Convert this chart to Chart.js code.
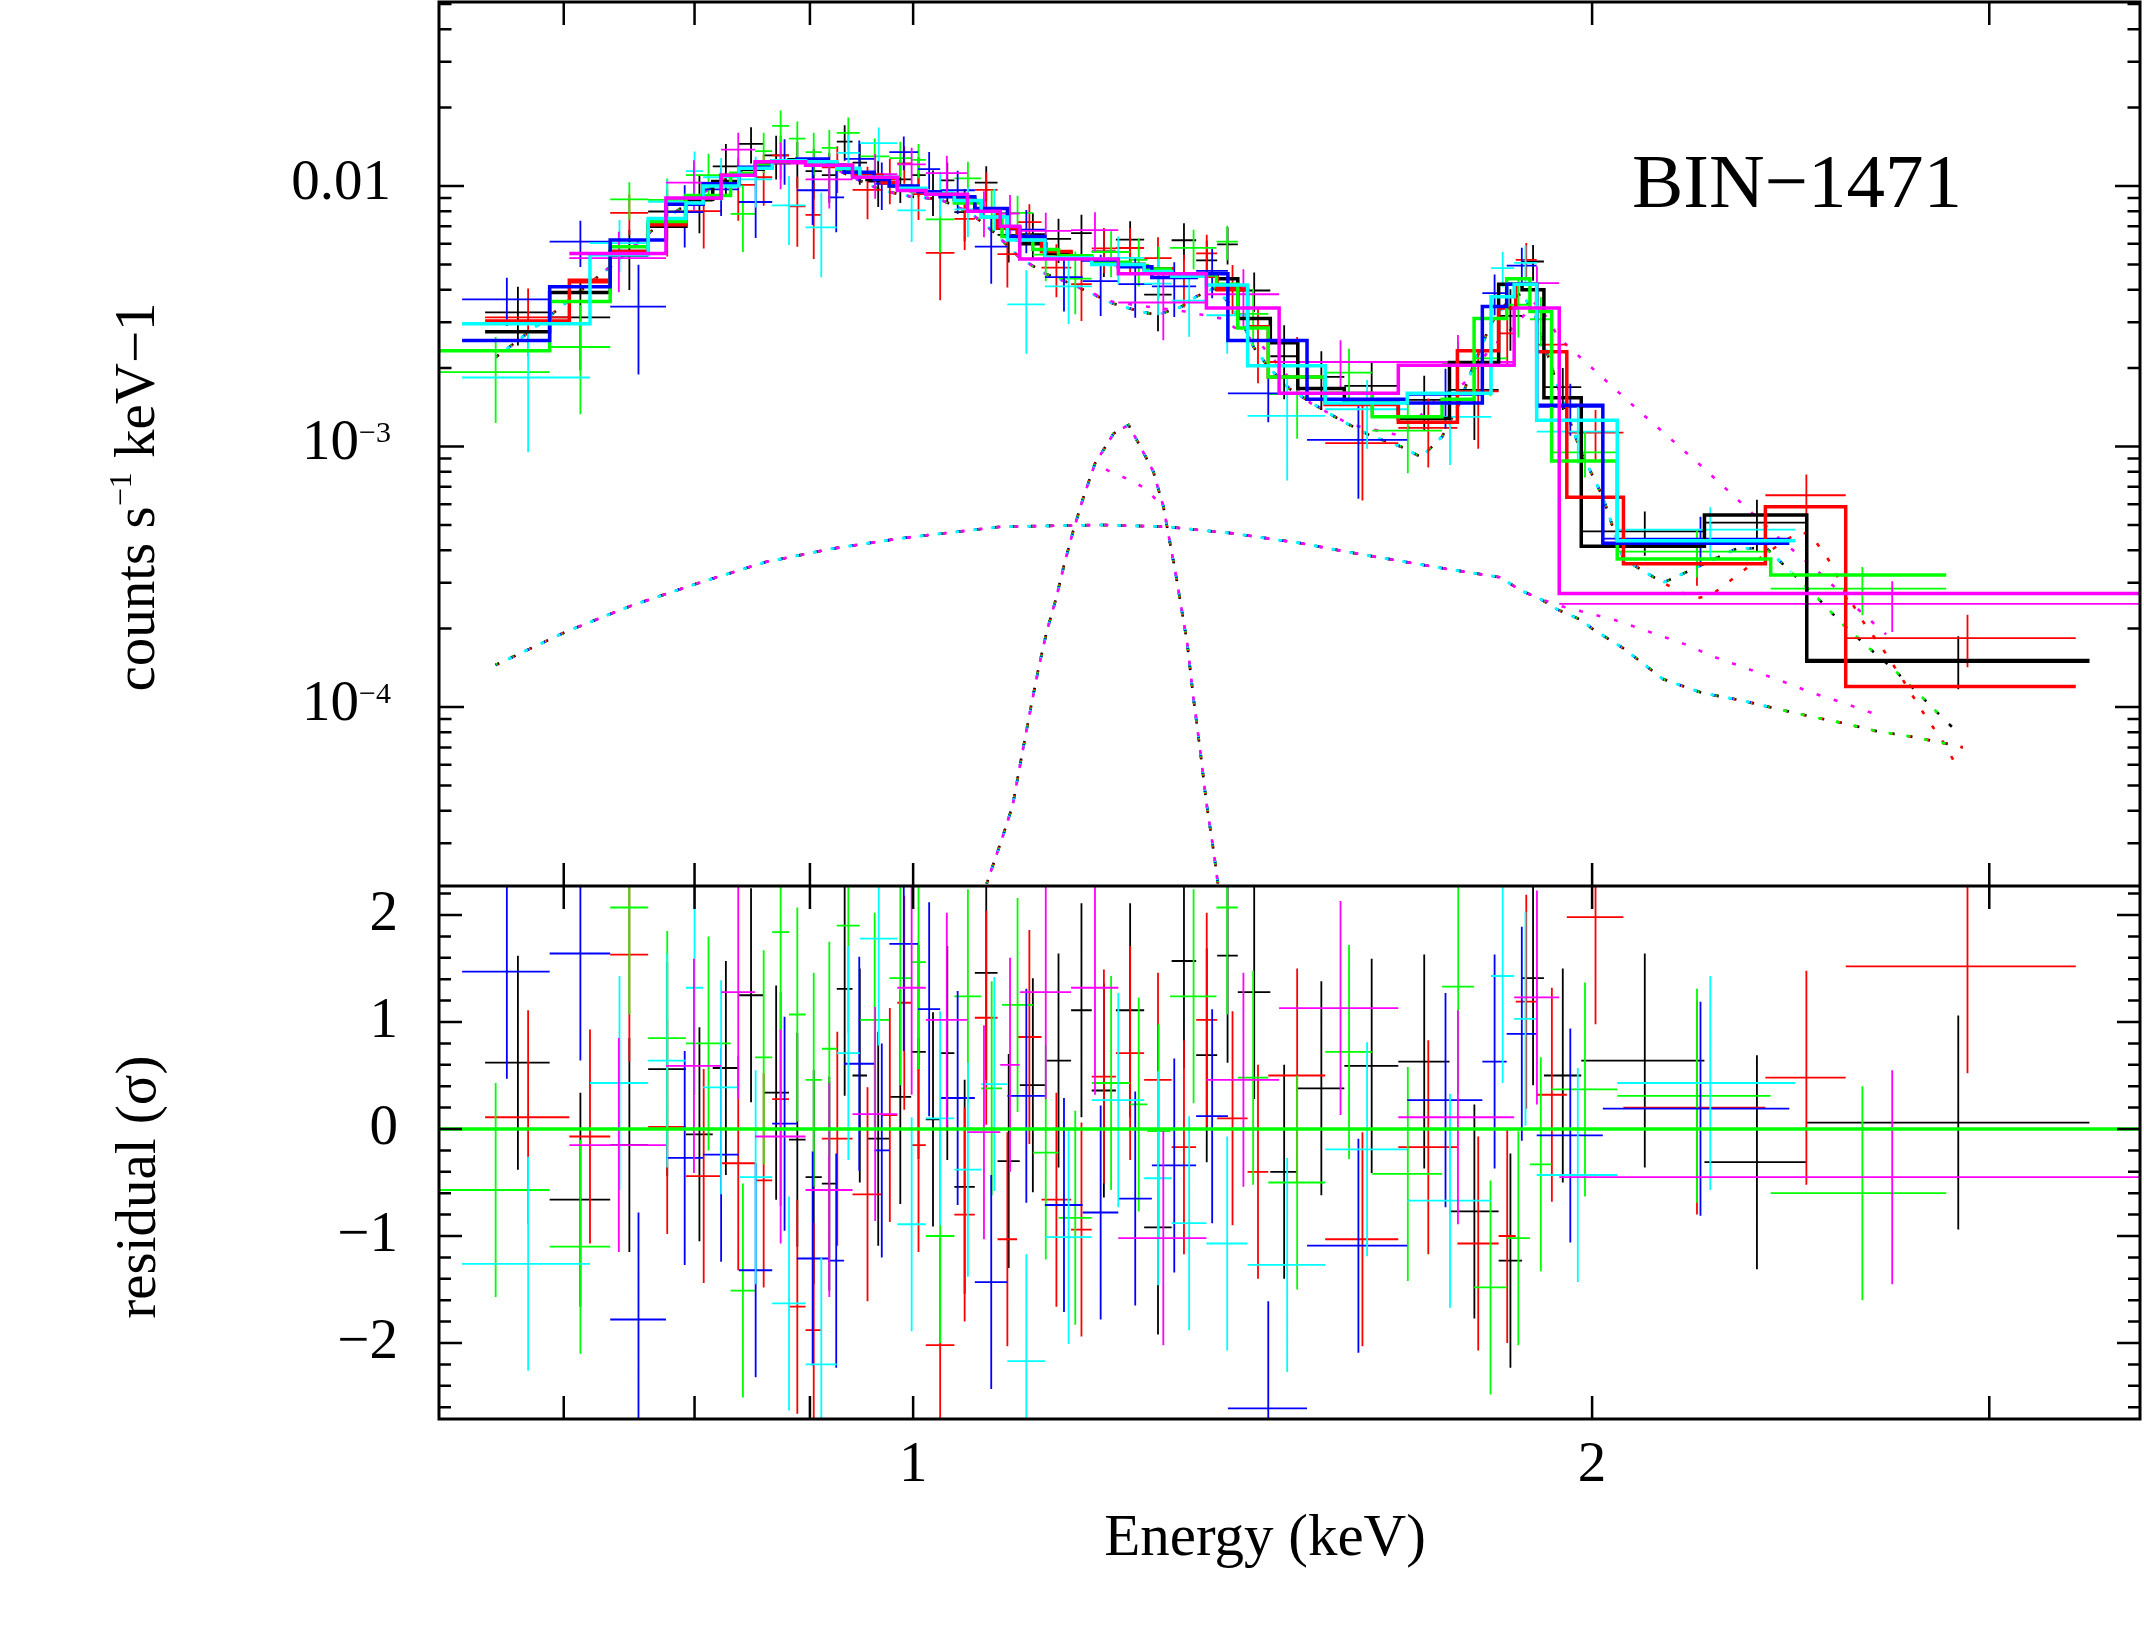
<!DOCTYPE html>
<html>
<head>
<meta charset="utf-8">
<title>BIN-1471 spectrum</title>
<script src="https://cdn.jsdelivr.net/npm/chart.js@4.4.1/dist/chart.umd.min.js"></script>
<style>
  html, body { margin: 0; padding: 0; background: #ffffff; }
  #wrap { width: 2144px; height: 1640px; }
</style>
</head>
<body>
<div id="wrap"><canvas id="spectrum" width="2144" height="1640"></canvas></div>
<script>
// axis ranges and tick labels
const energyRange = [0.6163, 3.499];
const countsRange = [2.056e-5, 0.05084];
const residRange = [-2.71, 2.271];

const xTickValues = [1, 2];
const xTickLabels = ['1', '2'];
const xMinorTicks = [0.7, 0.8, 0.9, 3];
const countsTickValues = [1e-2, 1e-3, 1e-4];
const countsTickBase = ['0.01', '10', '10'];
const countsTickExp = ['', '\u22123', '\u22124'];
const residTickValues = [-2, -1, 0, 1, 2];
const residTickLabels = ['\u22122', '\u22121', '0', '1', '2'];
const residSigma = 1;
const binLabel = 'BIN\u22121471';
const energyTitle = 'Energy (keV)';

// group 1 (black)
const blackEdges = [0.646, 0.690, 0.734, 0.763, 0.793, 0.815, 0.837, 0.858, 0.881, 0.896, 0.911, 0.925, 0.940, 0.954, 0.976, 0.998, 1.013, 1.028, 1.043, 1.065, 1.090, 1.115, 1.145, 1.175, 1.200, 1.230, 1.266, 1.302, 1.335, 1.364, 1.393, 1.440, 1.481, 1.553, 1.641, 1.729, 1.818, 1.862, 1.904, 1.978, 2.243, 2.490, 3.323];
const blackModel = [2.76e-3, 3.9e-3, 5.6e-3, 7.0e-3, 8.9e-3, 1.04e-2, 1.16e-2, 1.23e-2, 1.26e-2, 1.25e-2, 1.22e-2, 1.17e-2, 1.12e-2, 1.06e-2, 1.0e-2, 9.6e-3, 9.4e-3, 9.2e-3, 8.9e-3, 8.0e-3, 6.9e-3, 6.0e-3, 5.5e-3, 5.3e-3, 5.2e-3, 5.0e-3, 4.8e-3, 4.6e-3, 4.5e-3, 4.4e-3, 3.1e-3, 2.5e-3, 1.67e-3, 1.47e-3, 1.28e-3, 2.1e-3, 4.2e-3, 4.0e-3, 1.54e-3, 4.14e-4, 5.46e-4, 1.5e-4];
const blackData = [3.27e-3, 3.13e-3, 5.39e-3, 7.98e-3, 8.79e-3, 1.19e-2, 1.45e-2, 1.31e-2, 1.23e-2, 1.14e-2, 1.10e-2, 1.48e-2, 1.23e-2, 1.04e-2, 1.06e-2, 1.10e-2, 9.57e-3, 1.05e-2, 7.94e-3, 1.03e-2, 6.49e-3, 6.54e-3, 6.27e-3, 6.59e-3, 5.61e-3, 6.22e-3, 3.83e-3, 6.19e-3, 5.18e-3, 5.97e-3, 3.97e-3, 2.22e-3, 1.85e-3, 1.71e-3, 1.51e-3, 1.65e-3, 3.17e-3, 5.13e-3, 1.69e-3, 4.72e-4, 5.1e-4, 1.52e-4];
const blackErr = [0.83e-3, 1.17e-3, 1.4e-3, 1.75e-3, 2.2e-3, 2.6e-3, 2.3e-3, 2.5e-3, 2.5e-3, 2.5e-3, 2.4e-3, 2.3e-3, 2.2e-3, 2.1e-3, 2.0e-3, 1.9e-3, 1.9e-3, 1.8e-3, 1.8e-3, 1.6e-3, 1.4e-3, 1.32e-3, 1.21e-3, 1.17e-3, 1.14e-3, 1.1e-3, 1.06e-3, 1.01e-3, 0.99e-3, 0.97e-3, 0.68e-3, 0.7e-3, 0.47e-3, 0.41e-3, 0.36e-3, 0.59e-3, 0.84e-3, 0.8e-3, 0.31e-3, 0.91e-4, 1.15e-4, 0.35e-4];
const blackResid = [0.62, -0.66, -0.15, 0.56, -0.05, 0.57, 1.25, 0.34, -0.10, -0.45, -0.51, 1.31, 0.50, -0.09, 0.30, 0.72, 0.09, 0.71, -0.54, 1.46, -0.30, 0.41, 0.64, 1.11, 0.36, 1.11, -0.92, 1.57, 0.69, 1.62, 1.28, -0.40, 0.38, 0.59, 0.63, -0.77, -1.23, 1.41, 0.50, 0.64, -0.31, 0.06];

// group 2 (red)
const redEdges = [0.646, 0.704, 0.734, 0.763, 0.793, 0.822, 0.851, 0.866, 0.881, 0.896, 0.911, 0.940, 0.969, 0.984, 0.998, 1.013, 1.043, 1.065, 1.090, 1.112, 1.140, 1.175, 1.200, 1.230, 1.266, 1.302, 1.335, 1.364, 1.407, 1.437, 1.523, 1.641, 1.743, 1.818, 1.850, 1.890, 1.949, 2.065, 2.387, 2.591, 3.277];
const redModel = [3.03e-3, 4.35e-3, 5.6e-3, 7.1e-3, 9.0e-3, 1.1e-2, 1.2e-2, 1.24e-2, 1.25e-2, 1.24e-2, 1.2e-2, 1.1e-2, 1.03e-2, 9.9e-3, 9.6e-3, 9.3e-3, 8.9e-3, 8.0e-3, 6.9e-3, 6.2e-3, 5.6e-3, 5.3e-3, 5.2e-3, 5.0e-3, 4.8e-3, 4.6e-3, 4.5e-3, 4.0e-3, 2.88e-3, 1.85e-3, 1.45e-3, 1.24e-3, 2.33e-3, 3.4e-3, 4.2e-3, 2.31e-3, 6.38e-4, 3.55e-4, 5.87e-4, 1.2e-4];
const redData = [3.13e-3, 4.26e-3, 7.88e-3, 7.14e-3, 8.01e-3, 1.01e-2, 1.08e-2, 1.31e-2, 8.35e-3, 7.74e-3, 1.18e-2, 9.66e-3, 1.06e-2, 1.22e-2, 9.31e-3, 5.54e-3, 7.48e-3, 9.66e-3, 5.48e-3, 7.27e-3, 4.86e-3, 4.20e-3, 5.76e-3, 5.78e-3, 5.29e-3, 4.43e-3, 5.51e-3, 4.09e-3, 2.56e-3, 2.11e-3, 1.03e-3, 1.18e-3, 1.63e-3, 2.72e-3, 5.2e-3, 2.46e-3, 1.13e-3, 3.7e-4, 6.5e-4, 1.84e-4];
const redErr = [0.91e-3, 1.31e-3, 1.4e-3, 1.78e-3, 2.25e-3, 2.75e-3, 2.4e-3, 2.5e-3, 2.5e-3, 2.5e-3, 2.4e-3, 2.2e-3, 2.1e-3, 2.0e-3, 1.9e-3, 1.9e-3, 1.8e-3, 1.6e-3, 1.4e-3, 1.24e-3, 1.12e-3, 1.17e-3, 1.14e-3, 1.1e-3, 1.06e-3, 1.01e-3, 0.99e-3, 0.88e-3, 0.81e-3, 0.52e-3, 0.41e-3, 0.35e-3, 0.65e-3, 0.68e-3, 0.84e-3, 0.46e-3, 2.5e-4, 0.78e-4, 1.3e-4, 0.42e-4];
const redResid = [0.11, -0.07, 1.63, 0.02, -0.44, -0.32, -0.48, 0.28, -1.66, -1.88, -0.09, -0.61, 0.13, 1.18, -0.15, -2.02, -0.80, 1.04, -1.03, 0.86, -0.66, -0.94, 0.49, 0.71, 0.46, -0.17, 1.02, 0.10, -0.40, 0.50, -1.03, -0.17, -1.07, -1.00, 1.19, 0.32, 1.98, 0.20, 0.48, 1.52];

// group 3 (green)
const greenEdges = [0.616, 0.690, 0.734, 0.763, 0.793, 0.830, 0.851, 0.866, 0.881, 0.896, 0.911, 0.925, 0.947, 0.976, 0.998, 1.013, 1.043, 1.072, 1.095, 1.130, 1.160, 1.200, 1.248, 1.270, 1.300, 1.363, 1.393, 1.437, 1.523, 1.598, 1.716, 1.773, 1.833, 1.877, 1.919, 2.052, 2.400, 2.871];
const greenModel = [2.33e-3, 3.6e-3, 5.85e-3, 7.3e-3, 9.2e-3, 1.12e-2, 1.2e-2, 1.24e-2, 1.25e-2, 1.24e-2, 1.22e-2, 1.16e-2, 1.08e-2, 1.0e-2, 9.6e-3, 9.3e-3, 8.6e-3, 7.6e-3, 6.4e-3, 5.7e-3, 5.4e-3, 5.1e-3, 4.95e-3, 4.8e-3, 4.55e-3, 4.2e-3, 2.85e-3, 1.85e-3, 1.6e-3, 1.3e-3, 1.52e-3, 3.1e-3, 4.4e-3, 3.3e-3, 8.8e-4, 3.7e-4, 3.21e-4];
const greenData = [1.93e-3, 2.41e-3, 8.88e-3, 8.85e-3, 1.10e-2, 7.82e-3, 1.36e-2, 1.70e-2, 1.52e-2, 1.35e-2, 1.40e-2, 1.60e-2, 1.30e-2, 1.28e-2, 1.26e-2, 7.44e-3, 1.07e-2, 8.18e-3, 7.88e-3, 5.45e-3, 4.41e-3, 5.58e-3, 5.2e-3, 4.78e-3, 5.79e-3, 6.11e-3, 3.23e-3, 1.59e-3, 1.92e-3, 1.15e-3, 2.09e-3, 2.18e-3, 3.5e-3, 3.08e-3, 9.5e-4, 3.95e-4, 2.85e-4];
const greenErr = [0.70e-3, 1.08e-3, 1.46e-3, 1.83e-3, 2.3e-3, 2.24e-3, 2.4e-3, 2.5e-3, 2.5e-3, 2.5e-3, 2.4e-3, 2.3e-3, 2.2e-3, 2.0e-3, 1.9e-3, 1.9e-3, 1.7e-3, 1.5e-3, 1.3e-3, 1.14e-3, 1.19e-3, 1.12e-3, 1.09e-3, 1.06e-3, 1.0e-3, 0.92e-3, 0.8e-3, 0.52e-3, 0.45e-3, 0.36e-3, 0.43e-3, 0.62e-3, 0.88e-3, 0.66e-3, 1.9e-4, 0.81e-4, 0.6e-4];
const greenResid = [-0.57, -1.10, 2.07, 0.85, 0.80, -1.51, 0.67, 1.84, 1.07, 0.46, 0.75, 1.90, 1.02, 1.41, 1.56, -1.00, 1.24, 0.38, 1.16, -0.22, -0.83, 0.43, 0.23, -0.02, 1.24, 2.07, 0.48, -0.50, 0.72, -0.42, 1.33, -1.48, -1.02, -0.33, 0.37, 0.31, -0.60];

// group 4 (blue)
const blueEdges = [0.631, 0.690, 0.734, 0.777, 0.807, 0.837, 0.866, 0.888, 0.917, 0.932, 0.961, 0.976, 1.005, 1.028, 1.065, 1.101, 1.144, 1.189, 1.233, 1.276, 1.335, 1.379, 1.495, 1.656, 1.788, 1.833, 1.890, 2.022, 2.446];
const blueModel = [2.55e-3, 4.1e-3, 6.2e-3, 8.5e-3, 1.02e-2, 1.18e-2, 1.25e-2, 1.27e-2, 1.2e-2, 1.13e-2, 1.06e-2, 1.0e-2, 9.5e-3, 9.1e-3, 8.2e-3, 6.4e-3, 5.3e-3, 5.2e-3, 4.9e-3, 4.45e-3, 4.6e-3, 2.55e-3, 1.52e-3, 1.47e-3, 3.45e-3, 4.2e-3, 1.44e-3, 4.25e-4];
const blueData = [3.67e-3, 6.12e-3, 3.44e-3, 7.93e-3, 9.71e-3, 8.68e-3, 1.26e-2, 9.63e-3, 9.05e-3, 1.27e-2, 1.02e-2, 1.35e-2, 1.16e-2, 9.63e-3, 5.85e-3, 6.8e-3, 4.47e-3, 4.31e-3, 4.2e-3, 4.12e-3, 4.72e-3, 1.6e-3, 1.06e-3, 1.58e-3, 3.88e-3, 4.95e-3, 1.42e-3, 4.43e-4];
const blueErr = [0.77e-3, 1.23e-3, 1.55e-3, 2.13e-3, 2.04e-3, 2.36e-3, 2.5e-3, 2.54e-3, 2.4e-3, 2.26e-3, 2.12e-3, 2.0e-3, 1.9e-3, 1.82e-3, 1.64e-3, 1.28e-3, 1.17e-3, 1.14e-3, 1.08e-3, 0.98e-3, 1.01e-3, 0.36e-3, 0.43e-3, 0.41e-3, 0.69e-3, 0.84e-3, 0.32e-3, 0.94e-4];
const blueResid = [1.47, 1.64, -1.78, -0.27, -0.24, -1.32, 0.05, -1.21, -1.23, 0.61, -0.20, 1.73, 1.12, 0.29, -1.43, 0.31, -0.71, -0.78, -0.65, -0.34, 0.12, -2.61, -1.09, 0.27, 0.63, 0.89, -0.06, 0.19];

// group 5 (cyan)
const cyanEdges = [0.631, 0.719, 0.763, 0.793, 0.807, 0.837, 0.866, 0.896, 0.925, 0.947, 0.984, 1.013, 1.043, 1.072, 1.101, 1.144, 1.200, 1.266, 1.302, 1.349, 1.407, 1.523, 1.656, 1.804, 1.847, 1.890, 2.052, 2.461];
const cyanModel = [2.96e-3, 5.45e-3, 7.5e-3, 8.6e-3, 1.0e-2, 1.17e-2, 1.25e-2, 1.24e-2, 1.17e-2, 1.08e-2, 9.8e-3, 9.3e-3, 8.8e-3, 7.6e-3, 6.2e-3, 5.3e-3, 5.0e-3, 4.7e-3, 4.5e-3, 4.17e-3, 2.04e-3, 1.47e-3, 1.6e-3, 3.76e-3, 4.2e-3, 1.26e-3, 4.35e-4];
const cyanData = [1.84e-3, 6.04e-3, 8.7e-3, 1.14e-2, 1.08e-2, 1.06e-2, 8.43e-3, 6.94e-3, 1.34e-2, 1.46e-2, 8.06e-3, 9.49e-3, 8.13e-3, 8.24e-3, 3.51e-3, 4.12e-3, 5.3e-3, 4.22e-3, 3.63e-3, 3.19e-3, 1.31e-3, 1.39e-3, 1.3e-3, 4.84e-3, 5.07e-3, 1.14e-3, 4.8e-4];
const cyanErr = [0.89e-3, 1.36e-3, 1.88e-3, 2.15e-3, 2.0e-3, 2.34e-3, 2.5e-3, 2.48e-3, 2.34e-3, 2.16e-3, 1.96e-3, 1.86e-3, 1.76e-3, 1.52e-3, 1.24e-3, 1.17e-3, 1.1e-3, 1.03e-3, 0.99e-3, 0.92e-3, 0.57e-3, 0.41e-3, 0.45e-3, 0.75e-3, 0.84e-3, 0.28e-3, 1.05e-4];
const cyanResid = [-1.26, 0.43, 0.64, 1.32, 0.39, -0.45, -1.63, -2.20, 0.71, 1.78, -0.89, 0.10, -0.38, 0.42, -2.17, -1.01, 0.27, -0.46, -0.88, -1.07, -1.27, -0.19, -0.67, 1.43, 1.03, -0.43, 0.43];

// group 6 (magenta)
const magentaEdges = [0.704, 0.777, 0.822, 0.851, 0.896, 0.940, 0.984, 1.013, 1.057, 1.093, 1.115, 1.175, 1.233, 1.349, 1.453, 1.641, 1.847, 1.934, 3.5];
const magentaModel = [5.5e-3, 9.0e-3, 1.1e-2, 1.24e-2, 1.2e-2, 1.08e-2, 9.6e-3, 9.3e-3, 8.0e-3, 7.0e-3, 5.25e-3, 5.25e-3, 4.6e-3, 3.4e-3, 1.6e-3, 2.05e-3, 3.4e-3, 2.73e-4];
const magentaData = [5.29e-3, 1.03e-2, 1.38e-2, 1.22e-2, 1.06e-2, 1.11e-2, 1.21e-2, 1.12e-2, 7.95e-3, 7.84e-3, 6.73e-3, 6.77e-3, 3.57e-3, 3.84e-3, 2.11e-3, 2.11e-3, 4.24e-3, 2.49e-4];
const magentaErr = [1.38e-3, 2.25e-3, 2.2e-3, 2.48e-3, 2.4e-3, 2.16e-3, 1.92e-3, 1.86e-3, 1.6e-3, 1.4e-3, 1.16e-3, 1.16e-3, 1.01e-3, 0.95e-3, 0.45e-3, 0.57e-3, 0.68e-3, 0.55e-4];
const magentaResid = [-0.15, 0.59, 1.28, -0.07, -0.57, 0.14, 1.32, 1.02, -0.03, 0.60, 1.28, 1.32, -1.02, 0.46, 1.13, 0.11, 1.23, -0.45];

// model components (dotted)
const mainE = [0.653, 0.661, 0.690, 0.734, 0.777, 0.822, 0.850, 0.872, 0.895, 0.917, 0.940, 0.969, 0.998, 1.027, 1.060, 1.087, 1.115, 1.145, 1.176, 1.225, 1.260, 1.283, 1.315, 1.335, 1.360, 1.379, 1.400, 1.416, 1.437, 1.468, 1.502, 1.545, 1.595, 1.645, 1.680, 1.716, 1.747, 1.770, 1.804, 1.837, 1.862, 1.888, 1.913, 1.940, 1.976, 2.022, 2.065, 2.15, 2.22, 2.28, 2.32, 2.39, 2.45, 2.52, 2.58, 2.65, 2.72, 2.79, 2.86, 2.90];
const mainV = [2.2e-3, 2.38e-3, 3.17e-3, 4.9e-3, 7.5e-3, 1.05e-2, 1.18e-2, 1.26e-2, 1.24e-2, 1.2e-2, 1.08e-2, 9.6e-3, 9.1e-3, 8.9e-3, 7.9e-3, 6.6e-3, 5.3e-3, 4.6e-3, 4.2e-3, 3.55e-3, 3.3e-3, 3.2e-3, 3.44e-3, 3.76e-3, 4.05e-3, 3.6e-3, 2.97e-3, 2.4e-3, 2.02e-3, 1.67e-3, 1.47e-3, 1.27e-3, 1.1e-3, 1.0e-3, 9.1e-4, 1.09e-3, 1.47e-3, 2.0e-3, 2.97e-3, 3.65e-3, 3.88e-3, 3.15e-3, 2.2e-3, 1.51e-3, 9.7e-4, 6.4e-4, 3.7e-4, 3.0e-4, 3.4e-4, 3.8e-4, 4.07e-4, 4.07e-4, 3.3e-4, 2.6e-4, 2.1e-4, 1.7e-4, 1.4e-4, 1.13e-4, 9.1e-5, 8.1e-5];
const redTailE = [2.22, 2.26, 2.33, 2.39, 2.47, 2.50, 2.55, 2.59, 2.64, 2.70, 2.75, 2.80, 2.86, 2.91];
const redTailV = [2.6e-4, 2.7e-4, 3.3e-4, 3.9e-4, 4.7e-4, 4.6e-4, 3.6e-4, 2.75e-4, 2.1e-4, 1.6e-4, 1.25e-4, 9.7e-5, 7.4e-5, 5.7e-5];
const magMainE = [0.704, 0.734, 0.777, 0.822, 0.850, 0.872, 0.895, 0.917, 0.940, 0.969, 0.998, 1.027, 1.060, 1.087, 1.115, 1.145, 1.176, 1.225, 1.283, 1.32, 1.37, 1.43, 1.50, 1.56, 1.645, 1.71, 1.755, 1.80, 1.84, 1.89, 1.934, 2.0, 2.1, 2.24, 2.33, 2.42, 2.52, 2.62, 2.70];
const magMainV = [3.6e-3, 4.9e-3, 7.5e-3, 1.05e-2, 1.18e-2, 1.26e-2, 1.24e-2, 1.2e-2, 1.08e-2, 9.6e-3, 9.1e-3, 8.9e-3, 7.9e-3, 6.6e-3, 5.3e-3, 4.6e-3, 4.2e-3, 3.6e-3, 3.4e-3, 3.3e-3, 3.1e-3, 2.4e-3, 1.47e-3, 1.22e-3, 1.1e-3, 1.55e-3, 1.75e-3, 2.34e-3, 2.8e-3, 3.6e-3, 2.6e-3, 2.0e-3, 1.36e-3, 8.3e-4, 6.05e-4, 4.45e-4, 3.3e-4, 2.4e-4, 1.9e-4];
const contE = [0.653, 0.702, 0.750, 0.804, 0.860, 0.920, 0.987, 1.093, 1.210, 1.296, 1.386, 1.484, 1.568, 1.720, 1.820, 1.860, 1.897, 1.930, 1.980, 2.000, 2.065, 2.150, 2.240, 2.330, 2.420, 2.500, 2.580, 2.670, 2.770, 2.880, 2.920];
const contV = [1.45e-4, 1.95e-4, 2.45e-4, 3.0e-4, 3.6e-4, 4.05e-4, 4.44e-4, 4.92e-4, 5.0e-4, 4.92e-4, 4.64e-4, 4.26e-4, 3.9e-4, 3.4e-4, 3.15e-4, 2.8e-4, 2.6e-4, 2.37e-4, 2.15e-4, 2.0e-4, 1.68e-4, 1.28e-4, 1.13e-4, 1.06e-4, 9.8e-5, 9.2e-5, 8.7e-5, 8.1e-5, 7.7e-5, 7.2e-5, 7.0e-5];
const magContTailE = [1.934, 2.05, 2.20, 2.26, 2.34, 2.42, 2.50, 2.59, 2.68];
const magContTailV = [2.45e-4, 2.15e-4, 1.74e-4, 1.57e-4, 1.41e-4, 1.27e-4, 1.14e-4, 1.03e-4, 9.3e-5];
const lineE = [1.078, 1.096, 1.107, 1.118, 1.129, 1.137, 1.146, 1.157, 1.167, 1.178, 1.190, 1.204, 1.227, 1.246, 1.261, 1.278, 1.291, 1.299, 1.307, 1.315, 1.323, 1.331, 1.340, 1.349, 1.359, 1.365];
const lineV = [2.1e-5, 3.2e-5, 4.2e-5, 6.7e-5, 1.05e-4, 1.43e-4, 1.94e-4, 2.6e-4, 3.55e-4, 4.8e-4, 6.4e-4, 8.6e-4, 1.12e-3, 1.21e-3, 1.0e-3, 8.0e-4, 5.9e-4, 4.4e-4, 3.3e-4, 2.4e-4, 1.75e-4, 1.1e-4, 7.0e-5, 4.3e-5, 2.8e-5, 2.1e-5];
const magLineE = [1.204, 1.223, 1.245, 1.265, 1.291];
const magLineV = [8.6e-4, 8.0e-4, 7.5e-4, 6.97e-4, 5.9e-4];

const SERIF = "'Liberation Serif', 'Times New Roman', 'DejaVu Serif', serif";

function curve(E, V) {
    return E.map((e, i) => ({ x: e, y: V[i] }));
}

const mainCurve = curve(mainE, mainV);
const contCurve = curve(contE, contV);
const lineCurve = curve(lineE, lineV);

const groups = [
    { color: '#000000', edges: blackEdges, model: blackModel, data: blackData, err: blackErr, resid: blackResid,
      comps: [mainCurve, contCurve, lineCurve] },
    { color: '#ff0000', edges: redEdges, model: redModel, data: redData, err: redErr, resid: redResid,
      comps: [mainCurve.filter(p => p.x < 2.2).concat(curve(redTailE, redTailV)), contCurve, lineCurve] },
    { color: '#00ff00', edges: greenEdges, model: greenModel, data: greenData, err: greenErr, resid: greenResid,
      comps: [mainCurve, contCurve, lineCurve] },
    { color: '#0000ff', edges: blueEdges, model: blueModel, data: blueData, err: blueErr, resid: blueResid,
      comps: [mainCurve, contCurve, lineCurve] },
    { color: '#00ffff', edges: cyanEdges, model: cyanModel, data: cyanData, err: cyanErr, resid: cyanResid,
      comps: [mainCurve, contCurve, lineCurve] },
    { color: '#ff00ff', edges: magentaEdges, model: magentaModel, data: magentaData, err: magentaErr, resid: magentaResid,
      comps: [curve(magMainE, magMainV), contCurve.filter(p => p.x < 1.93).concat(curve(magContTailE, magContTailV)),
              lineCurve, curve(magLineE, magLineV)] }
];

function stepPoints(edges, vals) {
    const pts = vals.map((v, i) => ({ x: edges[i], y: v }));
    pts.push({ x: edges[edges.length - 1], y: vals[vals.length - 1] });
    return pts;
}

function crossPoints(edges, vals, errs, floor) {
    const pts = [];
    vals.forEach((v, i) => {
        const lo = edges[i], hi = edges[i + 1], mid = (lo + hi) / 2;
        pts.push({ x: lo, y: v }, { x: hi, y: v }, { x: hi, y: null });
        pts.push({ x: mid, y: Math.max(v - errs[i], floor) }, { x: mid, y: v + errs[i] }, { x: mid, y: null });
    });
    return pts;
}

const datasets = [];
groups.forEach((g, gi) => {
    const lo = g.edges[0], hi = g.edges[g.edges.length - 1];
    datasets.push({
        data: stepPoints(g.edges, g.model), yAxisID: 'yCounts', stepped: 'before',
        borderColor: g.color, borderWidth: 3.5, pointRadius: 0, order: 10 + (5 - gi)
    });
    datasets.push({
        data: crossPoints(g.edges, g.data, g.err, 1e-7), yAxisID: 'yCounts',
        borderColor: g.color, borderWidth: 1.8, pointRadius: 0, order: 30 + (5 - gi)
    });
    datasets.push({
        data: crossPoints(g.edges, g.resid, g.resid.map(() => residSigma), -10), yAxisID: 'yResid',
        borderColor: g.color, borderWidth: 1.8, pointRadius: 0, order: 30 + (5 - gi)
    });
    g.comps.forEach(c => {
        datasets.push({
            data: c.filter(p => p.x >= lo - 0.01 && p.x <= hi + 0.01), yAxisID: 'yCounts',
            borderColor: g.color, borderWidth: 2.6, pointRadius: 0,
            borderDash: [4, 14], borderDashOffset: gi * 1.1, order: 50 + (5 - gi)
        });
    });
});
// zero line of the residual panel
datasets.push({
    data: [{ x: energyRange[0], y: 0 }, { x: energyRange[1], y: 0 }], yAxisID: 'yResid',
    borderColor: '#00ff00', borderWidth: 3.5, pointRadius: 0, order: 0
});

function drawRotated(ctx, parts, bx, cy) {
    const widths = parts.map(p => { ctx.font = `${p.size}px ${SERIF}`; return ctx.measureText(p.text).width; });
    const total = widths.reduce((a, b) => a + b, 0);
    ctx.save();
    ctx.translate(bx, cy);
    ctx.rotate(-Math.PI / 2);
    ctx.textAlign = 'left';
    ctx.textBaseline = 'alphabetic';
    let x = -total / 2;
    parts.forEach((p, i) => {
        ctx.font = `${p.size}px ${SERIF}`;
        ctx.fillText(p.text, x, -p.raise);
        x += widths[i];
    });
    ctx.restore();
}

const countsTitle = [
    { text: 'counts s', size: 57, raise: 0 },
    { text: '\u22121', size: 32, raise: 23 },
    { text: ' keV\u22121', size: 57, raise: 0 }
];
const residTitle = [{ text: 'residual (\u03c3)', size: 57, raise: 0 }];

const framePlugin = {
    id: 'frameTicks',
    afterDatasetsDraw(chart) {
        const { ctx, chartArea: a, scales } = chart;
        const xs = scales.x, yc = scales.yCounts, yr = scales.yResid;
        const split = yc.bottom;
        const seg = (x1, y1, x2, y2) => { ctx.moveTo(x1, y1); ctx.lineTo(x2, y2); };
        ctx.save();
        ctx.strokeStyle = '#000';
        ctx.lineWidth = 2.5;
        ctx.beginPath();
        xTickValues.concat(xMinorTicks).forEach(v => {
            const px = xs.getPixelForValue(v);
            seg(px, a.top, px, a.top + 23);
            seg(px, split, px, split - 23);
            seg(px, split, px, split + 23);
            seg(px, a.bottom, px, a.bottom - 23);
        });
        for (let d = -5; d <= -1; d++) {
            for (let k = 1; k <= 9; k++) {
                const v = k * Math.pow(10, d);
                if (v < countsRange[0] || v > countsRange[1]) continue;
                const len = k === 1 ? 25 : 12.5;
                const py = yc.getPixelForValue(v);
                seg(a.left, py, a.left + len, py);
                seg(a.right, py, a.right - len, py);
            }
        }
        for (let i = -13; i <= 11; i++) {
            const len = i % 5 === 0 ? 23 : 12;
            const py = yr.getPixelForValue(i * 0.2);
            seg(a.left, py, a.left + len, py);
            seg(a.right, py, a.right - len, py);
        }
        ctx.stroke();
        ctx.lineWidth = 3;
        ctx.strokeRect(a.left, a.top, a.right - a.left, a.bottom - a.top);
        ctx.beginPath();
        seg(a.left, split, a.right, split);
        ctx.stroke();
        ctx.restore();
    },
    afterDraw(chart) {
        const { ctx, scales } = chart;
        const yc = scales.yCounts, yr = scales.yResid;
        ctx.save();
        ctx.fillStyle = '#000';
        ctx.textBaseline = 'middle';
        ctx.textAlign = 'left';
        countsTickValues.forEach((v, i) => {
            const py = yc.getPixelForValue(v);
            ctx.font = `57px ${SERIF}`;
            const wb = ctx.measureText(countsTickBase[i]).width;
            ctx.font = `30px ${SERIF}`;
            const we = countsTickExp[i] ? ctx.measureText(countsTickExp[i]).width : 0;
            const x0 = 391 - wb - we;
            ctx.font = `57px ${SERIF}`;
            ctx.fillText(countsTickBase[i], x0, py - 2);
            if (we) {
                ctx.font = `30px ${SERIF}`;
                ctx.fillText(countsTickExp[i], x0 + wb, py - 12);
            }
        });
        drawRotated(ctx, countsTitle, 154, yc.top + 0.56 * (yc.bottom - yc.top));
        drawRotated(ctx, residTitle, 155, yr.top + 0.565 * (yr.bottom - yr.top));
        ctx.textBaseline = 'alphabetic';
        ctx.textAlign = 'center';
        ctx.font = `59px ${SERIF}`;
        ctx.fillText(energyTitle, 1265, 1555);
        ctx.font = `77px ${SERIF}`;
        ctx.textAlign = 'left';
        ctx.fillText(binLabel, 1632, 207);
        ctx.restore();
    }
};

const labelFont = { family: SERIF, size: 57 };

// keep the exact axis limits and drop the label overflow padding Chart.js adds
function pinRange(range) {
    return s => { s.min = range[0]; s.max = range[1]; };
}
function noPadding(width, height) {
    return s => {
        if (width) s.width = width;
        if (height) s.height = height;
        s.paddingTop = 0; s.paddingBottom = 0; s.paddingLeft = 0; s.paddingRight = 0;
    };
}

new Chart(document.getElementById('spectrum'), {
    type: 'line',
    data: { datasets: datasets },
    options: {
        responsive: false,
        animation: false,
        events: [],
        spanGaps: false,
        layout: { padding: { top: 2, right: 4, bottom: 0, left: 0 } },
        plugins: { legend: { display: false }, tooltip: { enabled: false } },
        elements: { line: { tension: 0 } },
        scales: {
            x: {
                type: 'logarithmic', position: 'bottom', bounds: 'data',
                min: energyRange[0], max: energyRange[1],
                grid: { display: false, drawTicks: false }, border: { display: false },
                afterBuildTicks: s => { pinRange(energyRange)(s); s.ticks = xTickValues.map(v => ({ value: v })); },
                afterFit: noPadding(0, 221),
                ticks: {
                    color: '#000', font: labelFont, padding: 13, autoSkip: false, maxRotation: 0,
                    callback: v => xTickLabels[xTickValues.indexOf(v)]
                }
            },
            yCounts: {
                type: 'logarithmic', position: 'left', stack: 'panels', stackWeight: 884, weight: 2, bounds: 'data',
                min: countsRange[0], max: countsRange[1],
                grid: { display: false, drawTicks: false }, border: { display: false },
                ticks: { display: false },
                afterBuildTicks: pinRange(countsRange),
                afterFit: noPadding(439, 0)
            },
            yResid: {
                type: 'linear', position: 'left', stack: 'panels', stackWeight: 533, weight: 1, bounds: 'data',
                min: residRange[0], max: residRange[1],
                grid: { display: false, drawTicks: false }, border: { display: false },
                afterBuildTicks: s => { pinRange(residRange)(s); s.ticks = residTickValues.map(v => ({ value: v })); },
                afterFit: noPadding(439, 0),
                ticks: {
                    color: '#000', font: labelFont, padding: 41, autoSkip: false,
                    callback: v => residTickLabels[residTickValues.indexOf(v)]
                }
            }
        }
    },
    plugins: [framePlugin]
});
</script>
</body>
</html>
